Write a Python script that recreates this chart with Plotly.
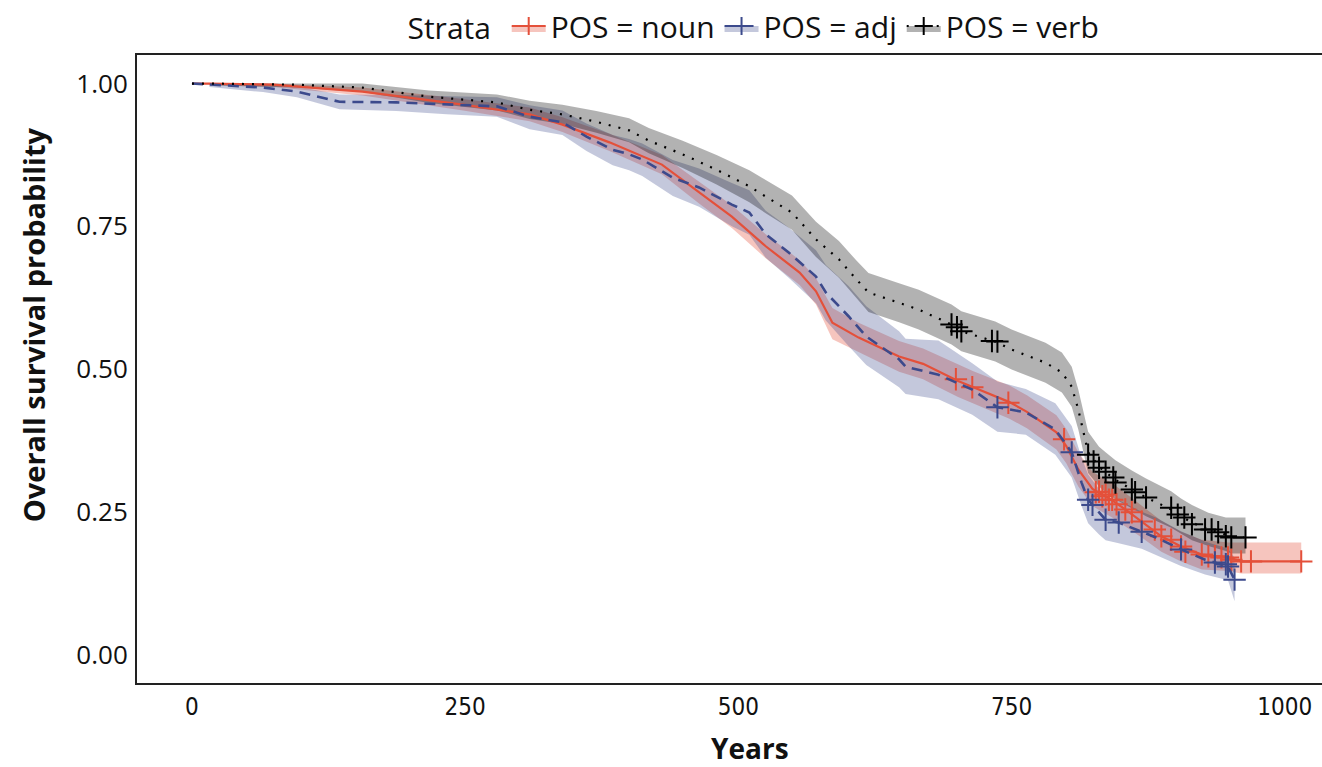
import plotly.graph_objects as go

# ---------------- data ----------------
noun_years = [0, 16, 74, 156, 248, 309, 339, 355, 382, 430, 464, 494, 525, 556, 571, 586, 610, 647, 669, 684,
              701, 715, 748, 764, 791, 800, 811, 824, 830, 842, 854, 869, 887, 905, 924, 948, 960, 1015]
noun_surv = [1.0, 1.0, 0.998, 0.986, 0.963, 0.946, 0.928, 0.916, 0.897, 0.858, 0.809, 0.767, 0.715, 0.669, 0.636,
             0.581, 0.555, 0.522, 0.509, 0.495, 0.479, 0.468, 0.442, 0.425, 0.389, 0.365, 0.324, 0.29, 0.283, 0.27,
             0.254, 0.233, 0.207, 0.189, 0.175, 0.17, 0.163, 0.163]
noun_lower = [1.0, 0.997, 0.994, 0.979, 0.953, 0.934, 0.915, 0.902, 0.882, 0.841, 0.79, 0.747, 0.694, 0.647, 0.613,
              0.552, 0.529, 0.495, 0.482, 0.467, 0.451, 0.44, 0.413, 0.396, 0.359, 0.335, 0.294, 0.26, 0.253, 0.24,
              0.225, 0.205, 0.18, 0.163, 0.149, 0.146, 0.142, 0.142]
noun_upper = [1.0, 1.0, 1.0, 0.993, 0.973, 0.958, 0.941, 0.93, 0.912, 0.875, 0.828, 0.787, 0.736, 0.691, 0.659,
              0.607, 0.581, 0.549, 0.536, 0.523, 0.507, 0.496, 0.471, 0.454, 0.419, 0.395, 0.354, 0.32, 0.313, 0.3,
              0.283, 0.261, 0.234, 0.215, 0.201, 0.196, 0.196, 0.196]
noun_cens_years = [699, 714, 747, 798, 827, 830, 833, 836, 839, 842, 846, 854, 860, 869, 881, 887, 896, 905, 909,
                   924, 930, 936, 942, 948, 951, 960, 969, 1015]
noun_cens_surv = [0.482, 0.468, 0.441, 0.377, 0.284, 0.285, 0.277, 0.28, 0.271, 0.271, 0.263, 0.254, 0.249, 0.233,
                  0.219, 0.207, 0.201, 0.189, 0.18, 0.175, 0.172, 0.172, 0.17, 0.17, 0.166, 0.163, 0.163, 0.163]

adj_years = [0, 16, 65, 96, 135, 187, 233, 279, 309, 339, 361, 385, 400, 412, 440, 464, 494, 510, 525, 546, 571,
             580, 601, 617, 647, 653, 683, 714, 737, 763, 790, 805, 814, 820, 830, 836, 848, 869, 882, 905, 927,
             948, 954]
adj_surv = [1.0, 0.998, 0.993, 0.986, 0.968, 0.967, 0.963, 0.96, 0.942, 0.932, 0.907, 0.884, 0.876, 0.867, 0.835,
            0.818, 0.788, 0.774, 0.736, 0.704, 0.662, 0.634, 0.592, 0.557, 0.517, 0.504, 0.49, 0.464, 0.433, 0.424,
            0.394, 0.354, 0.301, 0.271, 0.249, 0.236, 0.231, 0.215, 0.205, 0.184, 0.166, 0.154, 0.131]
adj_lower = [1.0, 0.994, 0.985, 0.976, 0.955, 0.952, 0.946, 0.942, 0.92, 0.91, 0.882, 0.857, 0.848, 0.838, 0.803,
             0.784, 0.75, 0.735, 0.695, 0.66, 0.615, 0.585, 0.54, 0.507, 0.468, 0.456, 0.447, 0.42, 0.39, 0.385,
             0.35, 0.31, 0.26, 0.23, 0.21, 0.2, 0.195, 0.185, 0.175, 0.155, 0.14, 0.13, 0.093]
adj_upper = [1.0, 1.0, 1.0, 0.995, 0.981, 0.98, 0.978, 0.976, 0.962, 0.953, 0.93, 0.91, 0.903, 0.895, 0.866, 0.851,
             0.826, 0.813, 0.777, 0.748, 0.708, 0.682, 0.645, 0.61, 0.566, 0.553, 0.55, 0.51, 0.478, 0.465, 0.44,
             0.4, 0.345, 0.315, 0.29, 0.276, 0.27, 0.25, 0.24, 0.216, 0.198, 0.185, 0.17]
adj_cens_years = [737, 805, 820, 824, 836, 848, 869, 905, 936, 946, 948, 954]
adj_cens_surv = [0.433, 0.354, 0.271, 0.262, 0.236, 0.231, 0.215, 0.184, 0.161, 0.158, 0.154, 0.131]

verb_years = [0, 16, 96, 156, 217, 279, 309, 339, 370, 400, 418, 449, 480, 510, 525, 549, 571, 592, 608, 619, 647,
              665, 695, 704, 735, 750, 781, 796, 805, 811, 820, 825, 830, 836, 845, 860, 873, 896, 905, 915, 930,
              946, 951, 964]
verb_surv = [1.0, 1.0, 0.998, 0.993, 0.977, 0.967, 0.954, 0.946, 0.933, 0.918, 0.9, 0.876, 0.849, 0.82, 0.802,
             0.774, 0.727, 0.692, 0.657, 0.634, 0.616, 0.604, 0.578, 0.566, 0.548, 0.534, 0.511, 0.494, 0.469, 0.429,
             0.354, 0.342, 0.329, 0.319, 0.306, 0.289, 0.275, 0.254, 0.242, 0.231, 0.219, 0.21, 0.205, 0.205]
verb_lower = [1.0, 0.997, 0.993, 0.985, 0.966, 0.953, 0.938, 0.929, 0.914, 0.897, 0.878, 0.852, 0.823, 0.792,
              0.773, 0.744, 0.696, 0.66, 0.624, 0.6, 0.582, 0.569, 0.543, 0.531, 0.513, 0.499, 0.476, 0.459, 0.434,
              0.394, 0.318, 0.306, 0.294, 0.284, 0.272, 0.256, 0.242, 0.222, 0.211, 0.2, 0.19, 0.181, 0.177, 0.177]
verb_upper = [1.0, 1.0, 1.0, 1.0, 0.988, 0.981, 0.97, 0.963, 0.952, 0.939, 0.922, 0.9, 0.875, 0.848, 0.831, 0.804,
              0.758, 0.724, 0.69, 0.668, 0.65, 0.639, 0.613, 0.601, 0.583, 0.569, 0.546, 0.529, 0.504, 0.464, 0.39,
              0.378, 0.364, 0.354, 0.34, 0.322, 0.308, 0.286, 0.273, 0.262, 0.248, 0.24, 0.24, 0.24]
verb_cens_years = [695, 700, 704, 732, 737, 820, 825, 830, 836, 843, 845, 860, 863, 873, 896, 902, 908, 915, 927,
                   933, 939, 946, 951, 964]
verb_cens_surv = [0.578, 0.573, 0.566, 0.549, 0.548, 0.35, 0.338, 0.327, 0.32, 0.31, 0.301, 0.289, 0.284, 0.275,
                  0.257, 0.245, 0.24, 0.228, 0.219, 0.219, 0.214, 0.207, 0.205, 0.205]

strata_names = ["POS = noun", "POS = adj", "POS = verb"]
x_ticks = [0, 250, 500, 750, 1000]
y_ticks = [0.0, 0.25, 0.5, 0.75, 1.0]
y_tick_labels = ["0.00", "0.25", "0.50", "0.75", "1.00"]
x_title = "Years"
y_title = "Overall survival probability"

# ---------------- styles ----------------
line_colors = ["#E4503A", "#3C4A8C", "#000000"]
band_colors = ["rgba(228,80,58,0.33)", "rgba(60,74,140,0.30)", "rgba(0,0,0,0.30)"]
dashes = ["solid", "11px,7px", "2px,8px"]
widths = [2.2, 2.6, 2.2]

series = [
    (noun_years, noun_surv, noun_lower, noun_upper, noun_cens_years, noun_cens_surv),
    (adj_years, adj_surv, adj_lower, adj_upper, adj_cens_years, adj_cens_surv),
    (verb_years, verb_surv, verb_lower, verb_upper, verb_cens_years, verb_cens_surv),
]

fig = go.Figure()

# confidence bands
for i, (yrs, s, lo, up, cy, cs) in enumerate(series):
    fig.add_trace(go.Scatter(x=yrs[1:] + yrs[1:][::-1], y=up[1:] + lo[1:][::-1], fill="toself",
                             fillcolor=band_colors[i], line=dict(width=0), mode="lines",
                             hoverinfo="skip", showlegend=False))

# survival curves and censor marks
for i, (yrs, s, lo, up, cy, cs) in enumerate(series):
    fig.add_trace(go.Scatter(x=yrs, y=s, mode="lines",
                             line=dict(color=line_colors[i], width=widths[i], dash=dashes[i]),
                             showlegend=False, name=strata_names[i]))
    fig.add_trace(go.Scatter(x=cy, y=cs, mode="markers",
                             marker=dict(symbol="cross-thin", size=16,
                                         line=dict(color=line_colors[i], width=2)),
                             showlegend=False, name=strata_names[i]))

# legend entries
for i in range(3):
    fig.add_trace(go.Scatter(x=[None], y=[None], mode="lines+markers", name=strata_names[i],
                             fill="toself", fillcolor=band_colors[i],
                             line=dict(color=line_colors[i], width=2, dash=dashes[i]),
                             marker=dict(symbol="cross-thin", size=13,
                                         line=dict(color=line_colors[i], width=2))))

fig.update_layout(
    width=1322, height=767,
    margin=dict(l=137, r=0, t=54, b=84),
    paper_bgcolor="white", plot_bgcolor="white",
    font=dict(family="Open Sans, Noto Sans, sans-serif", size=24, color="#111"),
    legend=dict(orientation="h", x=0.5215, xanchor="center", y=1.047, yanchor="middle",
                title=dict(text="Strata ", font=dict(size=30)), font=dict(size=30),
                itemwidth=34, bgcolor="rgba(0,0,0,0)"),
    showlegend=True,
    annotations=[
        dict(text="<b>" + x_title + "</b>", xref="paper", yref="paper", x=0.517, y=-0.103,
             xanchor="center", yanchor="middle", showarrow=False, font=dict(size=28)),
        dict(text="<b>" + y_title + "</b>", xref="paper", yref="paper", x=-0.087, y=0.571,
             xanchor="center", yanchor="middle", textangle=-90, showarrow=False, font=dict(size=29)),
    ],
)
fig.update_xaxes(range=[-50.3, 1034], tickvals=x_ticks, showgrid=False, zeroline=False,
                 showline=True, linecolor="#222", linewidth=2, mirror=True, ticks="",
                 tickfont=dict(family="Liberation Sans Narrow, DejaVu Sans Condensed, Open Sans", size=24),
                 ticklabelstandoff=1)
fig.update_yaxes(range=[-0.05, 1.05], tickvals=y_ticks, ticktext=y_tick_labels, showgrid=False,
                 zeroline=False, showline=True, linecolor="#222", linewidth=2, ticks="",
                 tickfont=dict(size=26), ticklabelstandoff=2)

fig.write_html("out.html")
